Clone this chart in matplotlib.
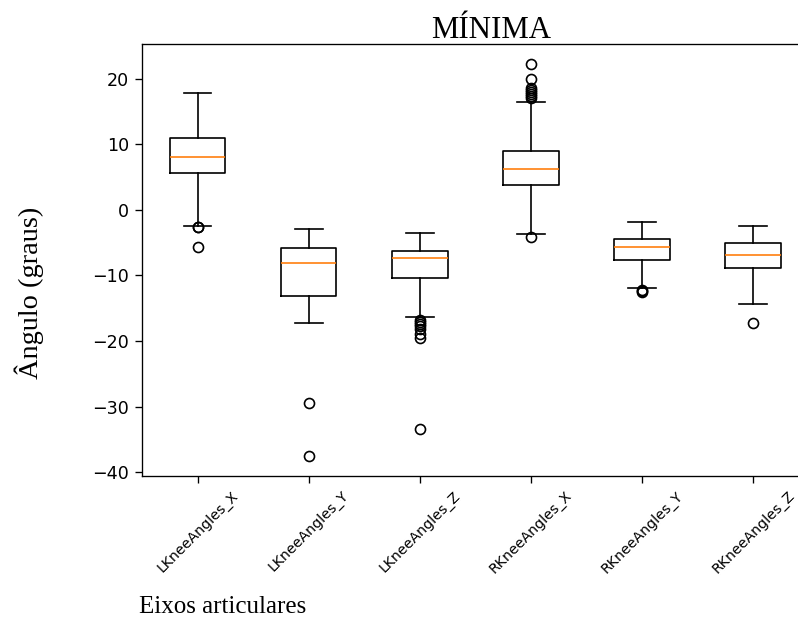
import matplotlib
matplotlib.use('Agg')
import matplotlib.pyplot as plt

# Joint axes (one box per axis)
labels = ['LKneeAngles_X', 'LKneeAngles_Y', 'LKneeAngles_Z',
          'RKneeAngles_X', 'RKneeAngles_Y', 'RKneeAngles_Z']

# Box statistics (degrees)
whislo = [-2.4, -17.2, -16.3, -3.7, -11.9, -14.3]
q1 = [5.6, -13.1, -10.45, 3.85, -7.6, -8.8]
med = [8.0, -8.1, -7.4, 6.3, -5.6, -6.95]
q3 = [11.0, -5.8, -6.35, 9.0, -4.5, -5.1]
whishi = [17.8, -2.9, -3.5, 16.5, -1.9, -2.5]

# Outliers
fliers = [
    [-2.55, -2.65, -5.7],
    [-29.4, -37.6],
    [-16.85, -17.1, -17.4, -17.7, -18.1, -19.0, -19.6, -33.5],
    [22.3, 20.0, 18.6, 18.2, 17.9, 17.6, 17.3, 17.0, -4.2],
    [-12.2, -12.4, -12.5],
    [-17.2],
]

stats = []
for i in range(len(labels)):
    stats.append({'label': labels[i], 'whislo': whislo[i], 'q1': q1[i],
                  'med': med[i], 'q3': q3[i], 'whishi': whishi[i],
                  'fliers': fliers[i]})

fig = plt.figure(figsize=(798 / 120, 621 / 120), dpi=120)
ax = fig.add_axes([0.178, 0.2335, 0.8353, 0.6957])
ax.bxp(stats)

plt.setp(ax.get_xticklabels(), rotation=45, fontsize=8.5)
ax.tick_params(axis='y', labelsize=10.5, length=4.2)
ax.tick_params(axis='x', length=4)

# Title and axis labels (serif, as in the original)
fig.text(491 / 798, 1 - 38 / 621, 'MÍNIMA', family='Liberation Serif',
         fontsize=18.5, ha='center', va='baseline')
fig.text(29 / 798, 1 - 293 / 621, 'Ângulo (graus)', family='Liberation Serif',
         fontsize=17, rotation=90, ha='center', va='center')
fig.text(139 / 798, 1 - 613 / 621, 'Eixos articulares', family='Liberation Serif',
         fontsize=15, ha='left', va='baseline')

fig.savefig('out.png', dpi=120)
